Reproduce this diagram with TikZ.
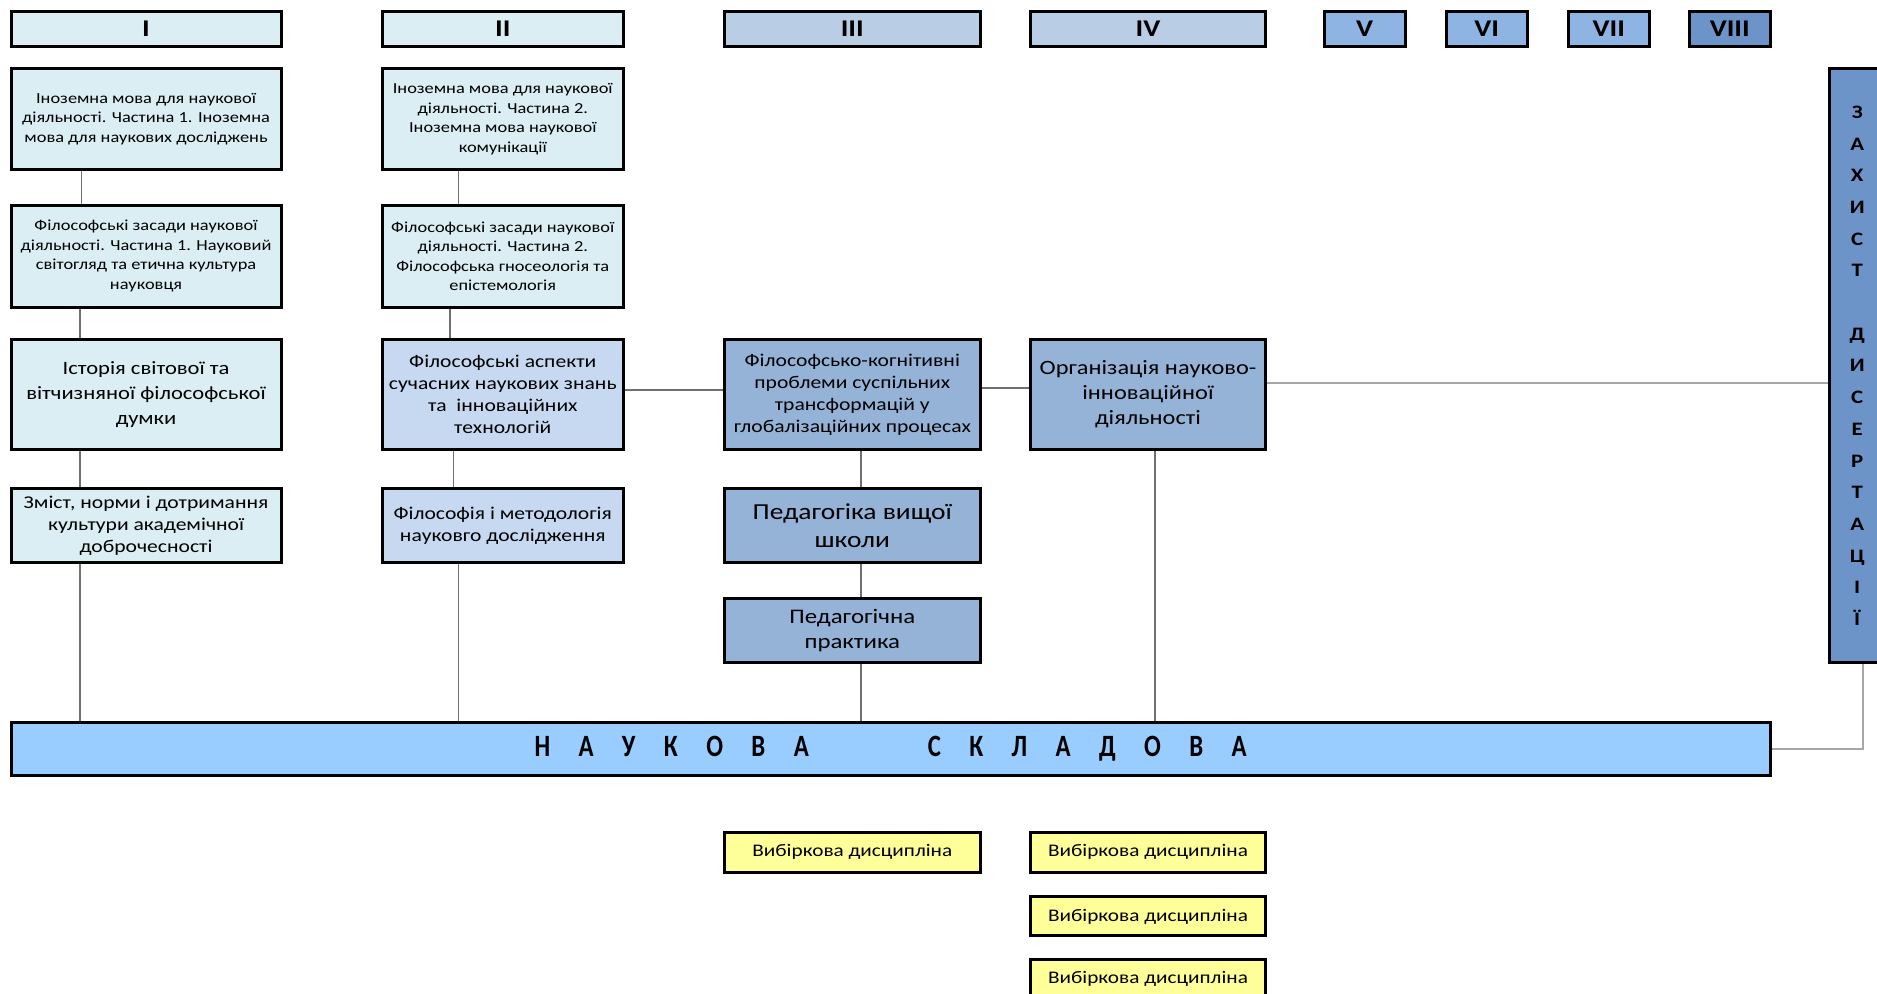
\documentclass[tikz,border=0pt]{standalone}
\usepackage{fontspec}
\setmainfont{Carlito}[FakeStretch=1.2]
\newfontfamily\barfont{Carlito}[FakeStretch=0.8]
\usetikzlibrary{calc}
\definecolor{cA}{HTML}{DBEEF4}
\definecolor{cB}{HTML}{B9CDE5}
\definecolor{cBb}{HTML}{C6D9F1}
\definecolor{cC}{HTML}{95B3D7}
\definecolor{cD}{HTML}{8DB4E2}
\definecolor{cE}{HTML}{6C94C9}
\definecolor{cBar}{HTML}{99CCFF}
\definecolor{cY}{HTML}{FFFF99}
\definecolor{lnA}{HTML}{707070}
\definecolor{lnB}{HTML}{A6A6A6}
\newcommand\bx[7]{\node[#2, minimum width={(#5-#3)*1.197pt-3pt}, minimum height={(#6-#4)*1.197pt-3pt}] (#1) at ({(#3+#5)/2},{(#4+#6)/2}) {#7};}
\tikzset{
  boxst/.style={draw=black, line width=3pt, inner sep=0pt, align=center, text=black},
  hdr/.style={boxst, font=\bfseries\fontsize{24}{28}\selectfont},
  fs/.style={font=\fontsize{15.3}{19.5}\selectfont},
  fm/.style={font=\fontsize{18}{22}\selectfont},
  fl/.style={font=\fontsize{18.8}{25}\selectfont},
  conn/.style={draw=lnA, line width=1.6pt},
  connB/.style={draw=lnB, line width=1.8pt},
}
\begin{document}
\begin{tikzpicture}[x=1.197pt, y=-1.197pt]
\useasboundingbox (0,0) rectangle (1568,830);
\fill[white] (0,0) rectangle (1568,830);
% headers
\bx{hI}{hdr,fill=cA}{8}{8}{236}{40}{I}
\bx{hII}{hdr,fill=cA}{318}{8}{522}{40}{II}
\bx{hIII}{hdr,fill=cB}{604}{8}{820}{40}{III}
\bx{hIV}{hdr,fill=cB}{860}{8}{1058}{40}{IV}
\bx{hV}{hdr,fill=cD}{1105}{8}{1175}{40}{V}
\bx{hVI}{hdr,fill=cD}{1207}{8}{1277}{40}{VI}
\bx{hVII}{hdr,fill=cD}{1309}{8}{1379}{40}{VII}
\bx{hVIII}{hdr,fill=cE}{1410}{8}{1480}{40}{VIII}
% column I
\bx{A1}{boxst,fill=cA,fs}{8}{56}{236}{143}{Іноземна мова для наукової\\діяльності. Частина 1. Іноземна\\мова для наукових досліджень}
\bx{A2}{boxst,fill=cA,fs}{8}{170}{236}{258}{Філософські засади наукової\\діяльності. Частина 1. Науковий\\світогляд та етична культура\\науковця}
\bx{A3}{boxst,fill=cA,fl}{8}{282}{236}{377}{Історія світової та\\вітчизняної філософської\\думки}
\bx{A4}{boxst,fill=cA,fm}{8}{407}{236}{471}{Зміст, норми і дотримання\\культури академічної\\доброчесності}
% column II
\bx{B1}{boxst,fill=cA,fs}{318}{56}{522}{143}{Іноземна мова для наукової\\діяльності. Частина 2.\\Іноземна мова наукової\\комунікації}
\bx{B2}{boxst,fill=cA,fs}{318}{170}{522}{258}{Філософські засади наукової\\діяльності. Частина 2.\\Філософська гносеологія та\\епістемологія}
\bx{B3}{boxst,fill=cBb,fm}{318}{282}{522}{377}{Філософські аспекти\\сучасних наукових знань\\та \ інноваційних\\технологій}
\bx{B4}{boxst,fill=cBb,fm}{318}{407}{522}{471}{Філософія і методологія\\науковго дослідження}
% column III
\bx{C1}{boxst,fill=cC,fm}{604}{282}{820}{377}{Філософсько-когнітивні\\проблеми суспільних\\трансформацій у\\глобалізаційних процесах}
\bx{C2}{boxst,fill=cC,font=\fontsize{22.9}{27.5}\selectfont}{604}{407}{820}{471}{Педагогіка вищої\\школи}
\bx{C3}{boxst,fill=cC,font=\fontsize{20.7}{25}\selectfont}{604}{499}{820}{555}{Педагогічна\\практика}
% column IV
\bx{D1}{boxst,fill=cC,font=\fontsize{20.3}{25}\selectfont}{860}{282}{1058}{377}{Організація науково-\\інноваційної\\діяльності}
% defence
\bx{Z}{boxst,fill=cE,font=\bfseries\fontsize{19}{31.7}\selectfont}{1527}{56}{1576}{555}{З\\А\\Х\\И\\С\\Т\\[31.7pt]Д\\И\\С\\Е\\Р\\Т\\А\\Ц\\І\\Ї}
% bar
\bx{N}{boxst,fill=cBar,font=\barfont\bfseries\fontsize{31}{34}\selectfont}{8}{602}{1480}{649}{\spaceskip=28.4pt\relax Н А У К О В А\hspace{119pt}С К Л А Д О В А}
% electives
\bx{E1}{boxst,fill=cY,font=\fontsize{17.7}{22}\selectfont}{604}{694}{820}{730}{Вибіркова дисципліна}
\bx{E2}{boxst,fill=cY,font=\fontsize{17.7}{22}\selectfont}{860}{694}{1058}{730}{Вибіркова дисципліна}
\bx{E3}{boxst,fill=cY,font=\fontsize{17.7}{22}\selectfont}{860}{748}{1058}{783}{Вибіркова дисципліна}
\bx{E4}{boxst,fill=cY,font=\fontsize{17.7}{22}\selectfont}{860}{800}{1058}{836}{Вибіркова дисципліна}
% helper coordinates
\coordinate (xa) at (68,0);
\coordinate (xa2) at (67,0);
\coordinate (xb) at (383,0);
\coordinate (xb2) at (376,0);
\coordinate (xb3) at (379,0);
\coordinate (xc) at (719,0);
\coordinate (xd) at (965,0);
\coordinate (xz) at (1556,0);
\coordinate (ya) at (0,326);
\coordinate (yb) at (0,324);
\coordinate (yc) at (0,320);
% connectors
\draw[conn] (A1.south -| xa) -- (A2.north -| xa);
\draw[conn] (A2.south -| xa2) -- (A3.north -| xa2);
\draw[conn] (A3.south -| xa2) -- (A4.north -| xa2);
\draw[conn] (A4.south -| xa2) -- (N.north -| xa2);
\draw[conn] (B1.south -| xb) -- (B2.north -| xb);
\draw[conn] (B2.south -| xb2) -- (B3.north -| xb2);
\draw[conn] (B3.south -| xb3) -- (B4.north -| xb3);
\draw[conn] (B4.south -| xb) -- (N.north -| xb);
\draw[conn] (B3.east |- ya) -- (C1.west |- ya);
\draw[conn] (C1.east |- yb) -- (D1.west |- yb);
\draw[conn] (C1.south -| xc) -- (C2.north -| xc);
\draw[conn] (C2.south -| xc) -- (C3.north -| xc);
\draw[conn] (C3.south -| xc) -- (N.north -| xc);
\draw[conn] (D1.south -| xd) -- (N.north -| xd);
\draw[connB] (D1.east |- yc) -- (Z.west |- yc);
\draw[connB] (N.east) -| (Z.south -| xz);
\end{tikzpicture}
\end{document}
